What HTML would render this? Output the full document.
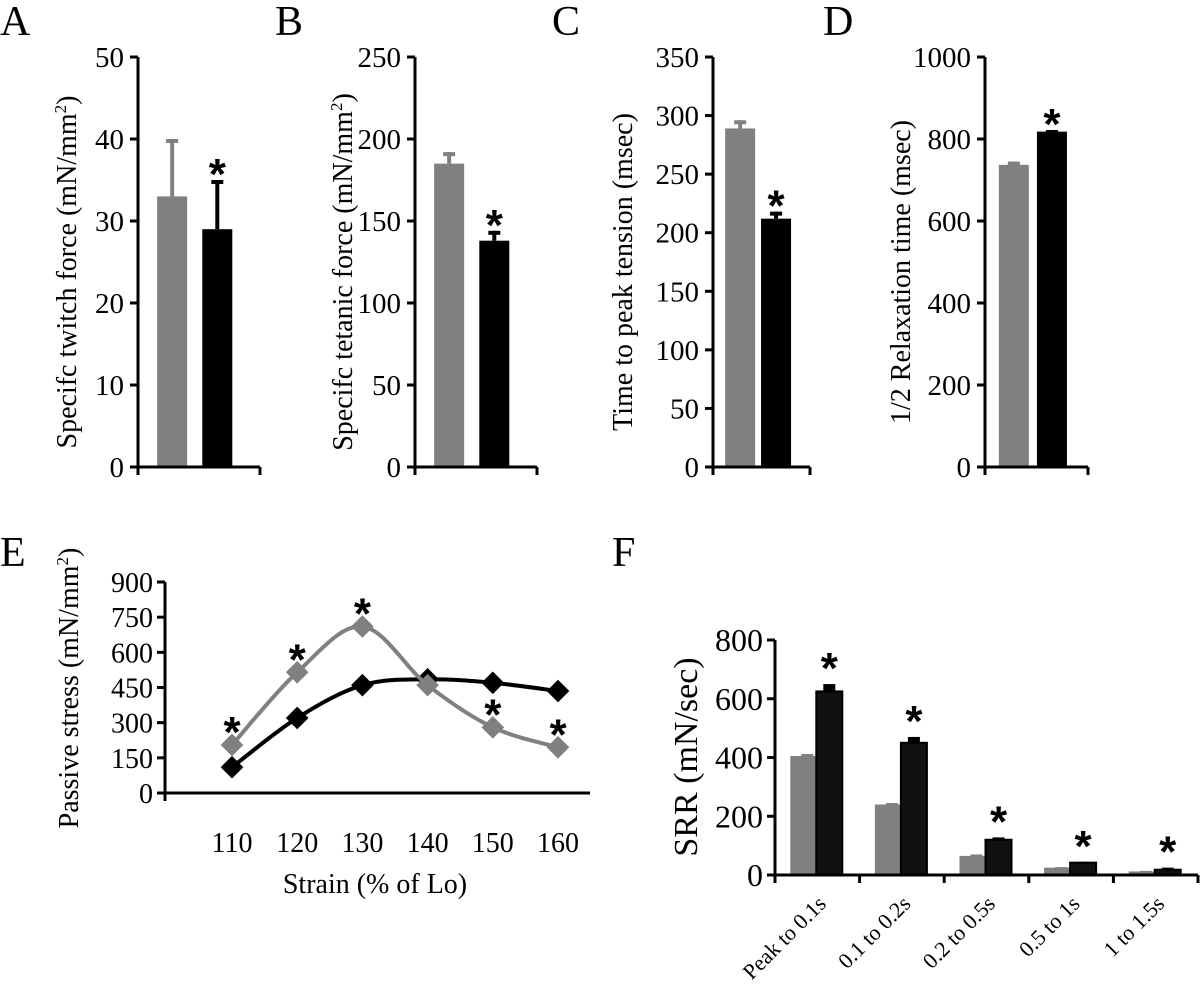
<!DOCTYPE html>
<html><head><meta charset="utf-8"><style>
html,body{margin:0;padding:0;background:#fff;}
svg{display:block;font-family:"Liberation Serif",serif;}
</style></head><body>
<svg id="fig" width="1200" height="1000" viewBox="0 0 1200 1000" xmlns="http://www.w3.org/2000/svg"></svg>
<script>
// Panel A-D data
const barPanels = ["A","B","C","D"];
const barGray = [33, 185, 289, 737];
const barGrayErr = [40, 192, 296, 745];
const barBlack = [29, 138, 212, 818];
const barBlackErr = [35, 144, 218, 822];
const barMax = [50, 250, 350, 1000];
const barStep = [10, 50, 50, 200];
const barTitles = ["Specifc twitch force (mN/mm", "Specifc tetanic force (mN/mm", "Time to peak tension (msec)", "1/2 Relaxation time (msec)"];
// Panel E data
const strainCats = [110, 120, 130, 140, 150, 160];
const stressGray = [205, 515, 710, 460, 280, 195];
const stressBlack = [110, 320, 460, 485, 470, 435];
const stressStars = [true, true, true, false, true, true];
const stressTicks = [0, 150, 300, 450, 600, 750, 900];
// Panel F data
const srrCats = ["Peak to 0.1s", "0.1 to 0.2s", "0.2 to 0.5s", "0.5 to 1s", "1 to 1.5s"];
const srrGray = [405, 240, 65, 25, 12];
const srrGrayErr = [412, 245, 70, 27, 14];
const srrBlack = [625, 450, 120, 42, 18];
const srrBlackErr = [650, 470, 128, 45, 25];
const srrTicks = [0, 200, 400, 600, 800];

const svg = document.getElementById('fig');
const NS = "http://www.w3.org/2000/svg";
function mk(tag, attrs, parent) {
  const e = document.createElementNS(NS, tag);
  for (const k in attrs) e.setAttribute(k, attrs[k]);
  (parent || svg).appendChild(e);
  return e;
}
function txt(s, attrs, parent) { const t = mk('text', attrs, parent); t.textContent = s; return t; }
function star(x, yBase, parent) {
  const st = txt('*', {x: x, y: yBase + 22, 'font-size': 44, 'font-weight': 'bold', 'text-anchor': 'middle', 'font-family': 'Liberation Sans, sans-serif'}, parent);
  
  
  return st;
}

// Panels A-D
const axX = [138, 415, 713, 985];
const axEnd = [260, 537, 810, 1088];
const titleX = [76, 352, 632, 910];
const letterX = [0, 275, 552, 823];
const abTop = 57, abBot = 467;
barPanels.forEach((p, i) => {
  const g = mk('g', {});
  
  
  const y = v => abBot - v / barMax[i] * (abBot - abTop);
  const L = txt(p, {x: letterX[i], y: 35, 'font-size': 42}, g);
  
  
  const x0 = axX[i];
  const w = axEnd[i] - x0;
  const gx = x0 + w * 0.28, bx = x0 + w * 0.65, bw = 30;
  const gb = mk('rect', {x: gx - bw/2, y: y(barGray[i]), width: bw, height: abBot - y(barGray[i]), fill: '#808080'}, g);
  
  
  mk('rect', {x: gx - 2, y: y(barGrayErr[i]), width: 4, height: y(barGray[i]) - y(barGrayErr[i]), fill: '#808080'}, g);
  mk('rect', {x: gx - 6, y: y(barGrayErr[i]), width: 12, height: 4, fill: '#808080'}, g);
  const bb = mk('rect', {x: bx - bw/2, y: y(barBlack[i]), width: bw, height: abBot - y(barBlack[i]), fill: '#000'}, g);
  
  
  mk('rect', {x: bx - 2, y: y(barBlackErr[i]), width: 4, height: y(barBlack[i]) - y(barBlackErr[i]), fill: '#000'}, g);
  mk('rect', {x: bx - 6, y: y(barBlackErr[i]), width: 12, height: 4, fill: '#000'}, g);
  star(bx, y(barBlackErr[i]) - 13, g);
  mk('line', {x1: x0, y1: abTop, x2: x0, y2: abBot + 8, stroke: '#000', 'stroke-width': 3}, g);
  mk('line', {x1: x0 - 8, y1: abBot, x2: axEnd[i], y2: abBot, stroke: '#000', 'stroke-width': 3}, g);
  mk('line', {x1: axEnd[i], y1: abBot, x2: axEnd[i], y2: abBot + 8, stroke: '#000', 'stroke-width': 3}, g);
  for (let v = 0; v <= barMax[i]; v += barStep[i]) {
    mk('line', {x1: x0 - 8, y1: y(v), x2: x0, y2: y(v), stroke: '#000', 'stroke-width': 3}, g);
    const t = txt(String(v), {x: x0 - 14, y: y(v) + 10, 'font-size': 29, 'text-anchor': 'end'}, g);
    
    
  }
  const ty = (abTop + abBot) / 2 + 10;
  const T = txt(barTitles[i], {x: titleX[i], y: ty, 'font-size': 28, 'text-anchor': 'middle', transform: `rotate(-90 ${titleX[i]} ${ty})`}, g);
  
  
  if (i < 2) {
    const sup = mk('tspan', {dy: -10, 'font-size': 17}, T); sup.textContent = '2';
    const cl = mk('tspan', {dy: 10}, T); cl.textContent = ')';
  }
});

// Panel E
(function(){
  const g = mk('g', {});
  
  
  const x0 = 165, xEnd = 590, yTop = 582, yBot = 793;
  const xs = c => 232 + (c - 110) / 10 * 65.2;
  const ys = v => yBot - v / 900 * (yBot - yTop);
  const L = txt('E', {x: 0, y: 566, 'font-size': 42}, g);
  
  
  mk('line', {x1: x0, y1: yTop, x2: x0, y2: yBot + 8, stroke: '#000', 'stroke-width': 3}, g);
  mk('line', {x1: x0 - 8, y1: yBot, x2: xEnd, y2: yBot, stroke: '#000', 'stroke-width': 3}, g);
  stressTicks.forEach(v => {
    mk('line', {x1: x0 - 8, y1: ys(v), x2: x0, y2: ys(v), stroke: '#000', 'stroke-width': 3}, g);
    const t = txt(String(v), {x: x0 - 12, y: ys(v) + 10, 'font-size': 28, 'text-anchor': 'end'}, g);
    
    
  });
  strainCats.forEach(c => {
    const t = txt(String(c), {x: xs(c), y: 852, 'font-size': 28, 'text-anchor': 'middle'}, g);
    
    
  });
  const xt = txt('Strain (% of Lo)', {x: 375, y: 893, 'font-size': 28, 'text-anchor': 'middle'}, g);
  
  
  const yt = txt('Passive stress (mN/mm', {x: 78, y: 688, 'font-size': 28, 'text-anchor': 'middle', transform: 'rotate(-90 78 688)'}, g);
  
  
  const s1 = mk('tspan', {dy: -10, 'font-size': 17}, yt); s1.textContent = '2';
  const s2 = mk('tspan', {dy: 10}, yt); s2.textContent = ')';
  function smooth(pts) {
    let d = `M${pts[0][0]},${pts[0][1]}`;
    for (let i = 0; i < pts.length - 1; i++) {
      const p0 = pts[i - 1] || pts[i], p1 = pts[i], p2 = pts[i + 1], p3 = pts[i + 2] || p2;
      const c1 = [p1[0] + (p2[0] - p0[0]) / 6, p1[1] + (p2[1] - p0[1]) / 6];
      const c2 = [p2[0] - (p3[0] - p1[0]) / 6, p2[1] - (p3[1] - p1[1]) / 6];
      d += ` C${c1[0]},${c1[1]} ${c2[0]},${c2[1]} ${p2[0]},${p2[1]}`;
    }
    return d;
  }
  [[stressBlack, '#000', 'black'], [stressGray, '#808080', 'gray']].forEach(([vals, col, nm]) => {
    const pts = vals.map((v, i) => [xs(strainCats[i]), ys(v)]);
    const ln = mk('path', {d: smooth(pts), fill: 'none', stroke: col, 'stroke-width': 4}, g);
    
    
    pts.forEach(p => {
      const m = mk('rect', {x: p[0] - 8, y: p[1] - 8, width: 16, height: 16, fill: col, transform: `rotate(45 ${p[0]} ${p[1]})`}, g);
      
      
    });
  });
  stressGray.forEach((v, i) => {
    if (!stressStars[i]) return;
    star(xs(strainCats[i]), ys(v) - 20, g);
  });
})();

// Panel F
(function(){
  const g = mk('g', {});
  
  
  const x0 = 775, xEnd = 1198, yTop = 640, yBot = 875;
  const ys = v => yBot - v / 800 * (yBot - yTop);
  const cw = (xEnd - x0) / srrCats.length;
  const L = txt('F', {x: 612, y: 566, 'font-size': 42}, g);
  
  
  srrCats.forEach((c, i) => {
    const cx = x0 + cw * (i + 0.5);
    const gb = mk('rect', {x: cx - 27, y: ys(srrGray[i]), width: 26, height: yBot - ys(srrGray[i]), fill: '#808080'}, g);
    
    
    mk('rect', {x: cx - 16, y: ys(srrGrayErr[i]), width: 12, height: ys(srrGray[i]) - ys(srrGrayErr[i]) + 1, fill: '#808080'}, g);
    const bb = mk('rect', {x: cx - 1, y: ys(srrBlack[i]), width: 26, height: yBot - ys(srrBlack[i]), fill: '#111', stroke: '#000', 'stroke-width': 2}, g);
    
    
    mk('rect', {x: cx + 6, y: ys(srrBlackErr[i]), width: 12, height: ys(srrBlack[i]) - ys(srrBlackErr[i]) + 1, fill: '#000'}, g);
    star(cx + 12, ys(srrBlackErr[i]) - 23, g);
    const lx = cx + 10, ly = 905;
    const t = txt(c, {x: lx, y: ly, 'font-size': 22, 'text-anchor': 'end', transform: `rotate(-45 ${lx} ${ly})`}, g);
    
    
  });
  mk('line', {x1: x0, y1: yTop, x2: x0, y2: yBot + 8, stroke: '#000', 'stroke-width': 3}, g);
  mk('line', {x1: x0 - 8, y1: yBot, x2: xEnd, y2: yBot, stroke: '#000', 'stroke-width': 3}, g);
  for (let i = 0; i <= srrCats.length; i++) {
    const tx = x0 + cw * i;
    mk('line', {x1: tx, y1: yBot, x2: tx, y2: yBot + 8, stroke: '#000', 'stroke-width': 3}, g);
  }
  srrTicks.forEach(v => {
    mk('line', {x1: x0 - 8, y1: ys(v), x2: x0, y2: ys(v), stroke: '#000', 'stroke-width': 3}, g);
    const t = txt(String(v), {x: x0 - 12, y: ys(v) + 11, 'font-size': 32, 'text-anchor': 'end'}, g);
    
    
  });
  const yt = txt('SRR (mN/sec)', {x: 697, y: 757, 'font-size': 34, 'text-anchor': 'middle', transform: 'rotate(-90 697 757)'}, g);
  
  
})();
</script>
</body></html>
